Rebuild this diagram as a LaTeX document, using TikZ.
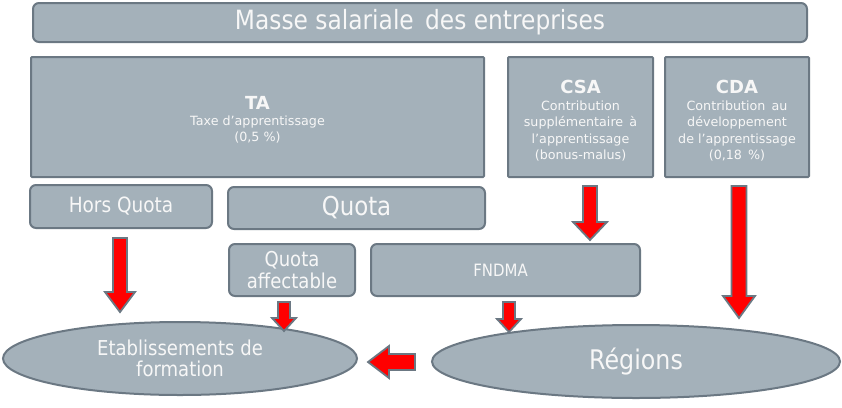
\documentclass[tikz,border=0pt]{standalone}
\usepackage{fontspec}
\usepackage{graphicx}
\setmainfont{DejaVu Sans}
\usetikzlibrary{shapes.geometric}
\definecolor{boxfill}{HTML}{A4B1BA}
\definecolor{boxline}{HTML}{6B7883}
\definecolor{txt}{HTML}{F7F7F7}
\definecolor{arrred}{HTML}{FF0000}
% condensed text: size, text
\newcommand{\cnd}[2]{\scalebox{0.88}[1]{\fontsize{#1}{#1}\selectfont #2}}
\tikzset{
  box/.style={draw=boxline, fill=boxfill, line width=2pt, rounded corners=6pt, text=txt, align=center, inner sep=0pt},
  sqbox/.style={box, rounded corners=1pt},
  oval/.style={draw=boxline, fill=boxfill, line width=2pt, ellipse, text=txt, align=center, inner sep=0pt},
  lbl/.style={text=txt, align=center, inner sep=0pt},
  ttl/.style={lbl, font=\fontsize{18}{18}\selectfont\bfseries, anchor=base},
  body/.style={lbl, font=\fontsize{12.7}{16.5}\selectfont},
  blk/.style={draw=boxline, fill=arrred, line width=1.8pt, line join=miter},
}
% x, ytop, ytip, shaft half width, head half width, head length
\newcommand{\vblk}[6]{%
  \draw[blk] (#1-#4,#2) -- (#1+#4,#2) -- (#1+#4,#3-#6) -- (#1+#5,#3-#6) -- (#1,#3)
    -- (#1-#5,#3-#6) -- (#1-#4,#3-#6) -- cycle;}
\begin{document}
\begin{tikzpicture}[x=1pt,y=-1pt]
\useasboundingbox (0,0) rectangle (842,407);

\node[box, minimum width=774pt, minimum height=39pt] (masse) at (420,22.5) {\cnd{26.5}{Masse salariale\, des entreprises}};

\node[sqbox, minimum width=453pt, minimum height=120pt] (ta) at (257.5,117) {};
\node[ttl] (tat) at (257.5,109) {TA};
\node[body] (tab) at (257.5,129.5) {Taxe d’apprentissage\\(0,5 \%)};

\node[sqbox, minimum width=145pt, minimum height=120pt] (csa) at (580.5,117) {};
\node[ttl] (csat) at (580.5,93) {CSA};
\node[body] (csab) at (580.5,131) {Contribution\\supplémentaire\,\ à\\l’apprentissage\\(bonus-malus)};

\node[sqbox, minimum width=144pt, minimum height=120pt] (cda) at (737,117) {};
\node[ttl] (cdat) at (737,93) {CDA};
\node[body] (cdab) at (737,131) {Contribution\,\ au\\développement\\de l’apprentissage\\(0,18\, \%)};

\node[box, minimum width=182pt, minimum height=43pt] (hq) at (121,206.5) {\cnd{21}{Hors Quota}};
\node[box, minimum width=257pt, minimum height=42pt] (quota) at (356.5,208) {\cnd{26}{Quota}};
\node[box, minimum width=126pt, minimum height=52pt] (qa) at (292,270) {\cnd{20.5}{Quota}\\[3pt]\cnd{20.5}{affectable}};
\node[box, minimum width=269pt, minimum height=52pt] (fndma) at (505.5,270) {\cnd{17}{FNDMA}\hspace*{10pt}};

\node[oval, minimum width=354pt, minimum height=73pt] (etab) at (180,358.5) {\cnd{20.5}{Etablissements de}\\[4pt]\cnd{20.5}{formation}};
\node[oval, minimum width=408pt, minimum height=73pt] (reg) at (636,361.5) {\cnd{27}{Régions}};

% block arrows
\vblk{120}{238}{312}{7}{15}{20}
\vblk{590}{186}{240}{7}{17}{18}
\vblk{739}{186}{318}{7.5}{16}{22}
\vblk{284}{302}{331}{6}{12}{13}
\vblk{509}{302}{332}{6}{12}{13}
\draw[blk] (415,354) -- (415,370) -- (389,370) -- (389,378) -- (368,362) -- (389,346) -- (389,354) -- cycle;
\end{tikzpicture}
\end{document}
